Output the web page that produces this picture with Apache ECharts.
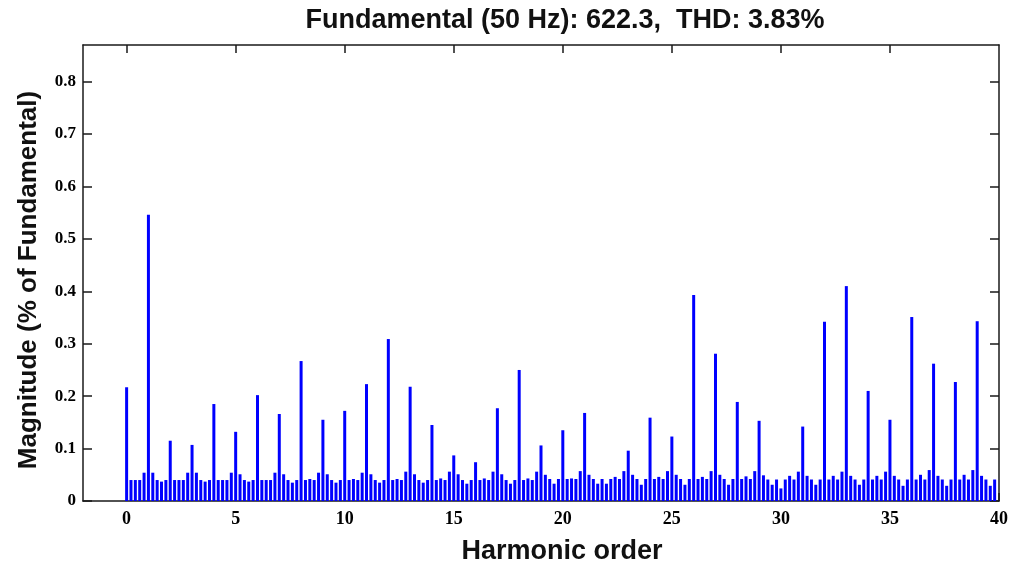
<!DOCTYPE html>
<html><head><meta charset="utf-8">
<script src="https://cdn.jsdelivr.net/npm/echarts@6/dist/echarts.min.js"></script>
<style>html,body{margin:0;padding:0;background:#fff}#c{width:1016px;height:571px}</style>
</head><body><div id="c"></div>
<script>
const titleText = 'Fundamental (50 Hz): 622.3,  THD: 3.83%';
const xName = 'Harmonic order';
const yName = 'Magnitude (% of Fundamental)';
const orderStep = 0.2; // spectrum resolution (harmonic order per bin)
// magnitude per bin, starting at order 0, one row per harmonic (k, k+0.2, ..., k+0.8)
const magnitude = [
  0.217, 0.040, 0.040, 0.040, 0.054,
  0.546, 0.054, 0.040, 0.037, 0.040,
  0.115, 0.040, 0.040, 0.040, 0.054,
  0.107, 0.054, 0.040, 0.037, 0.040,
  0.185, 0.040, 0.040, 0.040, 0.054,
  0.132, 0.051, 0.040, 0.037, 0.040,
  0.202, 0.040, 0.040, 0.040, 0.054,
  0.166, 0.051, 0.040, 0.035, 0.040,
  0.267, 0.040, 0.042, 0.040, 0.054,
  0.155, 0.051, 0.040, 0.035, 0.040,
  0.172, 0.040, 0.042, 0.040, 0.054,
  0.223, 0.051, 0.040, 0.035, 0.040,
  0.309, 0.040, 0.042, 0.040, 0.056,
  0.218, 0.051, 0.040, 0.035, 0.040,
  0.145, 0.040, 0.043, 0.040, 0.056,
  0.087, 0.051, 0.040, 0.033, 0.040,
  0.074, 0.040, 0.043, 0.040, 0.056,
  0.177, 0.051, 0.040, 0.033, 0.040,
  0.250, 0.040, 0.043, 0.040, 0.056,
  0.106, 0.050, 0.042, 0.033, 0.042,
  0.135, 0.042, 0.043, 0.042, 0.057,
  0.168, 0.050, 0.042, 0.033, 0.042,
  0.033, 0.042, 0.046, 0.042, 0.057,
  0.096, 0.050, 0.042, 0.031, 0.042,
  0.159, 0.042, 0.046, 0.042, 0.057,
  0.123, 0.050, 0.042, 0.031, 0.042,
  0.393, 0.042, 0.046, 0.042, 0.057,
  0.281, 0.050, 0.042, 0.031, 0.042,
  0.189, 0.042, 0.047, 0.042, 0.057,
  0.153, 0.049, 0.041, 0.031, 0.041,
  0.024, 0.041, 0.048, 0.041, 0.056,
  0.142, 0.048, 0.041, 0.031, 0.041,
  0.342, 0.041, 0.048, 0.041, 0.056,
  0.410, 0.048, 0.041, 0.031, 0.041,
  0.210, 0.041, 0.048, 0.041, 0.056,
  0.155, 0.048, 0.041, 0.029, 0.041,
  0.351, 0.041, 0.050, 0.041, 0.059,
  0.262, 0.048, 0.041, 0.029, 0.041,
  0.227, 0.041, 0.050, 0.041, 0.059,
  0.343, 0.048, 0.041, 0.029, 0.041
];
const xTicks = [0, 5, 10, 15, 20, 25, 30, 35, 40];
const xTopTicks = [0, 5, 10, 15, 20, 25, 30, 35];
const yTicks = [0, 0.1, 0.2, 0.3, 0.4, 0.5, 0.6, 0.7, 0.8];
const xRange = [-2, 40];
const yRange = [0, 0.87];

const seriesData = magnitude.map((v, i) => [Math.round(i * orderStep * 10) / 10, v]);

const chart = echarts.init(document.getElementById('c'), null, {renderer: 'canvas'});
const lineStyle = {color: '#1a1a1a', width: 1.5};
const labelFont = {fontFamily: '"Liberation Serif", "DejaVu Serif", serif', fontWeight: 'bold', color: '#000'};
const sansBold = '"Liberation Sans", Arial, sans-serif';
chart.setOption({
  animation: false,
  backgroundColor: '#fff',
  grid: {left: 83, right: 17, top: 45, bottom: 70, containLabel: false},
  graphic: [
    {type: 'text', x: 565, y: 21, style: {text: titleText, font: 'bold 27px ' + sansBold, fill: '#111', textAlign: 'center', textVerticalAlign: 'middle'}},
    {type: 'text', x: 562, y: 552, style: {text: xName, font: 'bold 27px ' + sansBold, fill: '#111', textAlign: 'center', textVerticalAlign: 'middle'}},
    {type: 'text', x: 29, y: 280, rotation: Math.PI / 2, style: {text: yName, font: 'bold 26px ' + sansBold, fill: '#111', textAlign: 'center', textVerticalAlign: 'middle'}}
  ],
  xAxis: [{
    type: 'value', min: xRange[0], max: xRange[1], position: 'bottom',
    axisLine: {show: true, onZero: false, lineStyle},
    axisTick: {show: true, inside: true, length: 8, customValues: xTicks, lineStyle},
    axisLabel: Object.assign({fontSize: 18, margin: 9, customValues: xTicks, formatter: v => String(v)}, labelFont),
    splitLine: {show: false}
  }, {
    type: 'value', min: xRange[0], max: xRange[1], position: 'top',
    axisLine: {show: true, onZero: false, lineStyle},
    axisTick: {show: true, inside: true, length: 8, customValues: xTopTicks, lineStyle},
    axisLabel: {show: false},
    splitLine: {show: false}
  }],
  yAxis: [{
    type: 'value', min: yRange[0], max: yRange[1], position: 'left',
    axisLine: {show: true, onZero: false, lineStyle},
    axisTick: {show: true, inside: true, length: 9, customValues: yTicks, lineStyle},
    axisLabel: Object.assign({fontSize: 17, margin: 7, customValues: yTicks, formatter: v => String(v)}, labelFont),
    splitLine: {show: false}
  }, {
    type: 'value', min: yRange[0], max: yRange[1], position: 'right',
    axisLine: {show: true, onZero: false, lineStyle},
    axisTick: {show: true, inside: true, length: 9, customValues: yTicks, lineStyle},
    axisLabel: {show: false},
    splitLine: {show: false}
  }],
  series: [{
    type: 'bar', xAxisIndex: 0, yAxisIndex: 0,
    data: seriesData, barWidth: 3,
    itemStyle: {color: '#0000ff'},
    z: 1
  }]
});
</script></body></html>
